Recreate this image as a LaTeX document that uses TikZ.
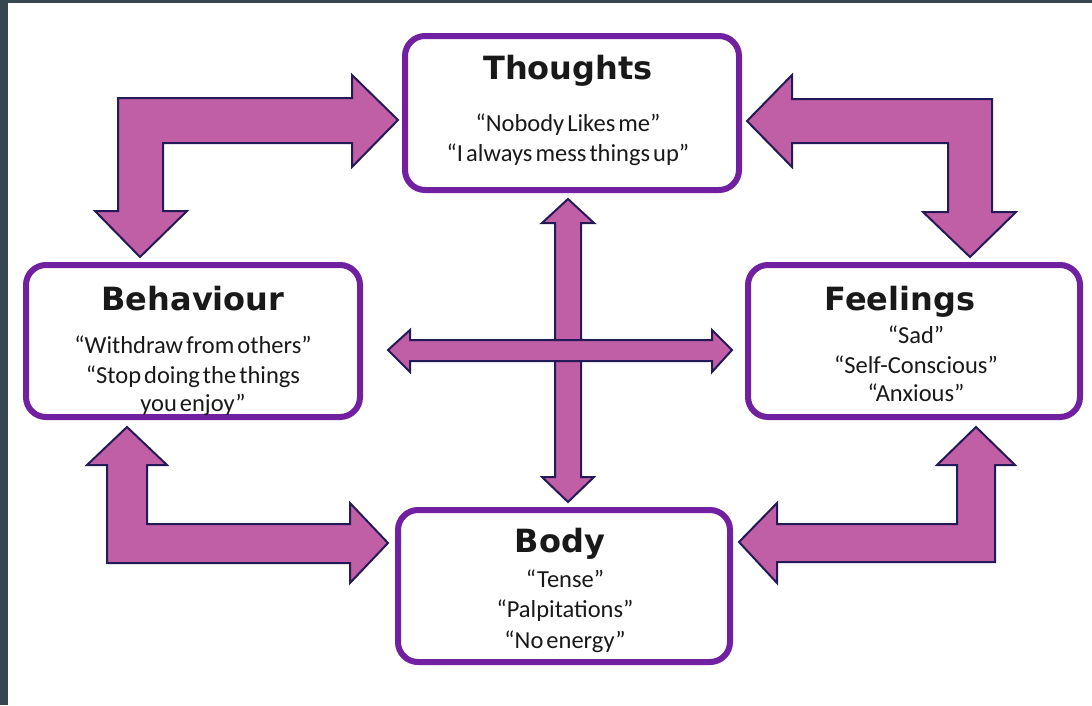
\documentclass[tikz,border=0pt]{standalone}
\usepackage{fontspec}
\newfontfamily\bodyfont[WordSpace=0.55]{Carlito}
\newfontfamily\titlefont{DejaVu Sans Bold}
\definecolor{frame}{RGB}{55,71,79}
\definecolor{boxline}{RGB}{112,32,160}
\definecolor{arrowfill}{RGB}{192,94,166}
\definecolor{arrowline}{RGB}{36,26,88}
\definecolor{txt}{RGB}{25,25,25}
\tikzset{
  box/.style={draw=boxline, line width=6pt, rounded corners=20pt, fill=white,
    inner sep=0pt, outer sep=0pt},
  blockarrow/.style={fill=arrowfill, draw=arrowline, line width=2pt, line join=miter},
  title/.style={anchor=base, inner sep=0pt, text=txt, font=\titlefont\fontsize{32}{38}\selectfont},
  line/.style={anchor=base, inner sep=0pt, text=txt, font=\bodyfont\fontsize{24.5}{29}\selectfont}
}
\begin{document}
\begin{tikzpicture}[x=1pt, y=-1pt]
\useasboundingbox (0,0) rectangle (1092,705);
\fill[white] (0,0) rectangle (1092,705);
\fill[frame] (0,0) rectangle (8,705);
\fill[frame] (0,0) rectangle (1092,3);

% boxes
\node[box, minimum width=334pt, minimum height=154pt] (thoughts) at (572,113) {};
\node[box, minimum width=334pt, minimum height=152pt] (behaviour) at (193,341) {};
\node[box, minimum width=332pt, minimum height=152pt] (feelings) at (914,341) {};
\node[box, minimum width=332pt, minimum height=152pt] (body) at (564,586) {};

% bent arrows
\draw[blockarrow] (118,98) -- (352,98) -- (352,75) -- (398,120) -- (352,167) -- (352,143)
  -- (163,143) -- (163,211) -- (187,211) -- (140,257) -- (95,211) -- (118,211) -- cycle;
\draw[blockarrow] (992,99) -- (992,212) -- (1016,212) -- (970,257) -- (923,212) -- (948,212)
  -- (948,143) -- (792,143) -- (792,167) -- (747,121) -- (792,75) -- (792,99) -- cycle;
\draw[blockarrow] (107,465) -- (87,465) -- (127,427) -- (167,465) -- (147,465) -- (147,524)
  -- (350,524) -- (350,503) -- (388,543) -- (350,583) -- (350,563) -- (107,563) -- cycle;
\draw[blockarrow] (995,465) -- (1015,465) -- (976,427) -- (937,465) -- (957,465) -- (957,524)
  -- (777,524) -- (777,503) -- (739,542) -- (777,583) -- (777,562) -- (995,562) -- cycle;

% cross arrows
\draw[blockarrow] (568,199) -- (594,223) -- (581,223) -- (581,477) -- (594,477) -- (568,502)
  -- (542,477) -- (555,477) -- (555,223) -- (542,223) -- cycle;
\draw[blockarrow] (388,350) -- (410,330) -- (410,340) -- (712,340) -- (712,330) -- (732,350)
  -- (712,372) -- (712,361) -- (410,361) -- (410,372) -- cycle;

% texts
\node[title] (tt) at (568,79) {Thoughts};
\node[line] (t1) at (568,131) {“Nobody Likes me”};
\node[line] (t2) at (568,161) {“I always mess things up”};

\node[title] (bt) at (193,310) {Behaviour};
\node[line] (b1) at (193,353) {“Withdraw from others”};
\node[line] (b2) at (193,383) {“Stop doing the things};
\node[line] (b3) at (193,411) {you enjoy”};

\node[title] (ft) at (900,310) {Feelings};
\node[line] (f1) at (916,343) {“Sad”};
\node[line] (f2) at (916,373) {“Self-Conscious”};
\node[line] (f3) at (916,401) {“Anxious”};

\node[title] (yt) at (560,552) {Body};
\node[line] (y1) at (565,587) {“Tense”};
\node[line] (y2) at (565,617) {“Palpitations”};
\node[line] (y3) at (565,648) {“No energy”};
\end{tikzpicture}
\end{document}
